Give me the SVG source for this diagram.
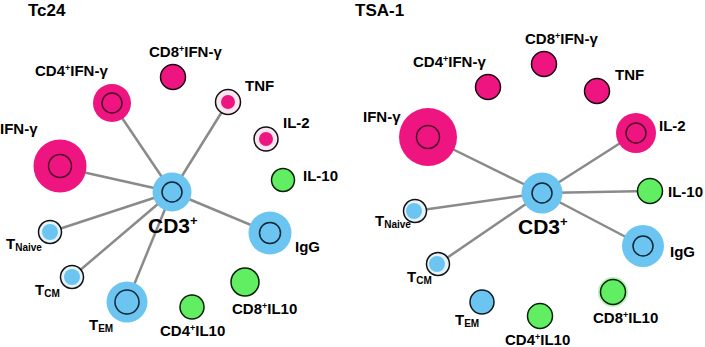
<svg xmlns="http://www.w3.org/2000/svg" width="705" height="347" viewBox="0 0 705 347">
<style>
text{font-family:"Liberation Sans",Arial,sans-serif;font-weight:bold;fill:#000}
.lb{font-size:15px}
.ti{font-size:17px}
.cd3{font-size:21px}
.sup{font-size:9px}
.sub{font-size:10px}
.mag{fill:#EE1580}
.blu{fill:#6CC5F0}
.grn{fill:#62EE62}
.rm{fill:#EE1580;stroke:#4E0A28;stroke-width:1.5}
.rb{fill:#6CC5F0;stroke:#0B2638;stroke-width:1.5}
.sm{fill:#EE1580;stroke:#1a0a10;stroke-width:1.5}
.sb{fill:#6CC5F0;stroke:#0a1a24;stroke-width:1.5}
.sg{fill:#62EE62;stroke:#0a200a;stroke-width:1.5}
.wm{fill:#FBE6EF;stroke:#111;stroke-width:1.5}
.wb{fill:#E6F3FA;stroke:#111;stroke-width:1.5}
.edges line{stroke:#8A8A8A;stroke-width:2.5}
</style>
<rect width="705" height="347" fill="#fff"/>
<g id="connectors" class="edges">
<line x1="172" y1="192" x2="112" y2="103"/>
<line x1="172" y1="192" x2="228" y2="102"/>
<line x1="172" y1="192" x2="60" y2="167"/>
<line x1="172" y1="192" x2="270" y2="233"/>
<line x1="172" y1="192" x2="50" y2="232"/>
<line x1="172" y1="192" x2="72" y2="277"/>
<line x1="172" y1="192" x2="127" y2="302"/>
<line x1="542" y1="193" x2="428" y2="137"/>
<line x1="542" y1="193" x2="636" y2="133"/>
<line x1="542" y1="193" x2="650" y2="191"/>
<line x1="542" y1="193" x2="643" y2="246"/>
<line x1="542" y1="193" x2="415" y2="211"/>
<line x1="542" y1="193" x2="438" y2="264"/>
</g>
<g id="titles">
<text class="ti" x="28" y="16">Tc24</text>
<text class="ti" x="355" y="16">TSA-1</text>
</g>
<!-- Left panel -->
<g id="L-CD8IFN"><circle class="sm" cx="173" cy="77" r="12.5"/><text class="lb" x="149" y="57">CD8<tspan class="sup" dy="-5">+</tspan><tspan dy="5">IFN-γ</tspan></text></g>
<g id="L-CD4IFN"><circle class="mag" cx="112" cy="103" r="19"/><circle class="rm" cx="112" cy="103" r="10"/><text class="lb" x="35" y="76">CD4<tspan class="sup" dy="-5">+</tspan><tspan dy="5">IFN-γ</tspan></text></g>
<g id="L-TNF"><circle class="wm" cx="228" cy="102" r="12.5"/><circle class="mag" cx="228" cy="102" r="7"/><text class="lb" x="245" y="91">TNF</text></g>
<g id="L-IL2"><circle class="wm" cx="266" cy="139" r="12"/><circle class="mag" cx="266" cy="139" r="7"/><text class="lb" x="283" y="128">IL-2</text></g>
<g id="L-IFN"><circle class="mag" cx="60" cy="166" r="26.5"/><circle class="rm" cx="60" cy="166" r="11.5"/><text class="lb" x="0" y="134">IFN-γ</text></g>
<g id="L-IL10"><circle class="sg" cx="283" cy="180" r="11.5"/><text class="lb" x="303" y="181">IL-10</text></g>
<g id="L-CD3"><circle class="blu" cx="172" cy="192" r="19.5"/><circle class="rb" cx="172" cy="192" r="10"/><text class="cd3" x="148" y="233">CD3<tspan class="sup" style="font-size:13px" dy="-8">+</tspan></text></g>
<g id="L-IgG"><circle class="blu" cx="270" cy="233" r="21.5"/><circle class="rb" cx="270" cy="233" r="10.5"/><text class="lb" x="295" y="252">IgG</text></g>
<g id="L-TNaive"><circle class="wb" cx="50" cy="232" r="11.5"/><circle class="blu" cx="50" cy="232" r="8"/><text x="6" y="249" style="font-size:15px">T<tspan class="sub" dy="2">Naive</tspan></text></g>
<g id="L-TCM"><circle class="wb" cx="72" cy="277" r="11.5"/><circle class="blu" cx="72" cy="277" r="8"/><text x="35" y="295" style="font-size:15px">T<tspan class="sub" dy="2">CM</tspan></text></g>
<g id="L-TEM"><circle class="blu" cx="127" cy="302" r="20.5"/><circle class="rb" cx="127" cy="302" r="12"/><text x="89" y="330" style="font-size:15px">T<tspan class="sub" dy="2">EM</tspan></text></g>
<g id="L-CD4IL10"><circle class="sg" cx="192" cy="307" r="12"/><text class="lb" x="160" y="336">CD4<tspan class="sup" dy="-5">+</tspan><tspan dy="5">IL10</tspan></text></g>
<g id="L-CD8IL10"><circle class="sg" cx="245" cy="282" r="14"/><text class="lb" x="232" y="314">CD8<tspan class="sup" dy="-5">+</tspan><tspan dy="5">IL10</tspan></text></g>
<!-- Right panel -->
<g id="R-CD8IFN"><circle class="sm" cx="544" cy="64" r="12.5"/><text class="lb" x="525" y="44">CD8<tspan class="sup" dy="-5">+</tspan><tspan dy="5">IFN-γ</tspan></text></g>
<g id="R-CD4IFN"><circle class="sm" cx="488" cy="87" r="12.5"/><text class="lb" x="413" y="67">CD4<tspan class="sup" dy="-5">+</tspan><tspan dy="5">IFN-γ</tspan></text></g>
<g id="R-TNF"><circle class="sm" cx="597" cy="91" r="12.5"/><text class="lb" x="615" y="80">TNF</text></g>
<g id="R-IFN"><circle class="mag" cx="428" cy="137" r="29"/><circle class="rm" cx="428" cy="137" r="11.5"/><text class="lb" x="363" y="122">IFN-γ</text></g>
<g id="R-IL2"><circle class="mag" cx="636" cy="133" r="20"/><circle class="rm" cx="636" cy="133" r="10"/><text class="lb" x="659" y="131">IL-2</text></g>
<g id="R-CD3"><circle class="blu" cx="542" cy="193" r="20.5"/><circle class="rb" cx="542" cy="193" r="10"/><text class="cd3" x="518" y="234">CD3<tspan class="sup" style="font-size:13px" dy="-8">+</tspan></text></g>
<g id="R-IL10"><circle class="sg" cx="650" cy="191" r="12.5"/><text class="lb" x="668" y="197">IL-10</text></g>
<g id="R-IgG"><circle class="blu" cx="643" cy="246" r="21"/><circle class="rb" cx="643" cy="246" r="10"/><text class="lb" x="670" y="257">IgG</text></g>
<g id="R-TNaive"><circle class="wb" cx="415" cy="211" r="11.5"/><circle class="blu" cx="414" cy="211" r="8"/><text x="375" y="226" style="font-size:15px">T<tspan class="sub" dy="2">Naive</tspan></text></g>
<g id="R-TCM"><circle class="wb" cx="438" cy="264" r="11.5"/><circle class="blu" cx="437" cy="264" r="8"/><text x="407" y="282" style="font-size:15px">T<tspan class="sub" dy="2">CM</tspan></text></g>
<g id="R-TEM"><circle class="sb" cx="482" cy="302" r="12"/><text x="455" y="325" style="font-size:15px">T<tspan class="sub" dy="2">EM</tspan></text></g>
<g id="R-CD4IL10"><circle class="sg" cx="540" cy="316" r="12.5"/><text class="lb" x="505" y="345">CD4<tspan class="sup" dy="-5">+</tspan><tspan dy="5">IL10</tspan></text></g>
<g id="R-CD8IL10"><circle cx="613" cy="292" r="15" fill="#B8F2B8"/><circle class="sg" cx="613" cy="292" r="12.5"/><text class="lb" x="593" y="323">CD8<tspan class="sup" dy="-5">+</tspan><tspan dy="5">IL10</tspan></text></g>
</svg>
